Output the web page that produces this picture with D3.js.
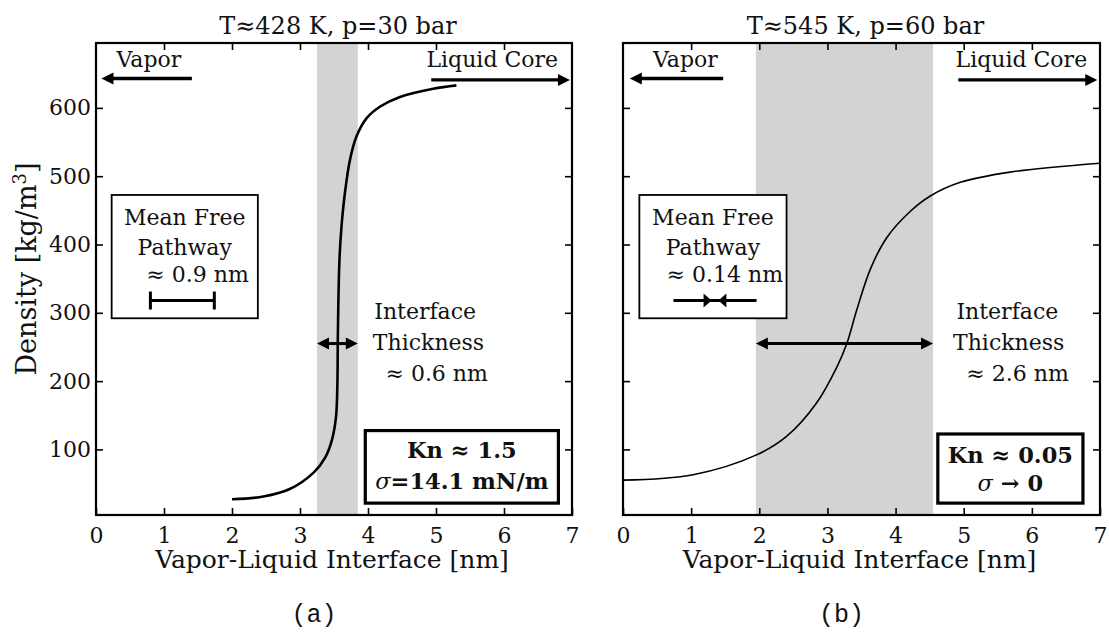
<!DOCTYPE html>
<html>
<head>
<meta charset="utf-8">
<script src="https://cdn.jsdelivr.net/npm/d3@7"></script>
<style>
  body { margin: 0; background: #fff; }
  text { font-family: "DejaVu Serif", serif; fill: #111; }
</style>
</head>
<body>
<svg id="chart" width="1109" height="632"></svg>
<script>
// density profiles  (x in nm, density in kg/m^3)
var xA = [2.0, 2.46, 2.85, 3.2, 3.37, 3.47, 3.53, 3.55, 3.555, 3.56, 3.58, 3.61, 3.66, 3.735, 3.83, 3.98, 4.18, 4.47, 4.96, 5.3];
var yA = [27, 31, 42, 66, 88, 114, 148, 197, 250, 290, 377, 426, 475, 524, 558, 585, 602, 616, 628, 633];

var xB = [0, 1.03, 1.96, 2.4, 2.84, 3.14, 3.285, 3.43, 3.63, 3.87, 4.21, 4.51, 4.95, 5.68, 7.0];
var yB = [55, 63, 92, 119, 168, 221, 255, 304, 364, 410, 448, 471, 491, 506, 519];

// shaded interface regions
var bandA = [3.25, 3.85];
var bandB = [1.95, 4.55];

var xTicks = [0, 1, 2, 3, 4, 5, 6, 7];
var yTicks = [100, 200, 300, 400, 500, 600];

var titles = ['T\u2248428 K, p=30 bar', 'T\u2248545 K, p=60 bar'];
var panelTags = ['(a)', '(b)'];
var mfpText = ['\u2248 0.9 nm', '\u2248 0.14 nm'];
var thickText = ['\u2248 0.6 nm', '\u2248 2.6 nm'];
var knText = ['Kn \u2248 1.5', 'Kn \u2248 0.05'];
var sigmaText = ['=14.1 mN/m', ' \u2192 0'];

var svg = d3.select('#chart');
var yDomain = [4, 695];

function arrowHead(g, x, y, dir, len, hw) {
    // dir = +1 points right, -1 points left
    g.append('path')
        .attr('d', 'M' + x + ',' + y + 'L' + (x - dir * len) + ',' + (y - hw) +
                   'L' + (x - dir * len) + ',' + (y + hw) + 'Z')
        .attr('fill', '#000');
}

function hArrow(g, x0, x1, y, heads, w) {
    // heads: 'left', 'right', 'both'
    var a = x0, b = x1;
    if (heads == 'left' || heads == 'both') a = x0 + 8;
    if (heads == 'right' || heads == 'both') b = x1 - 8;
    g.append('line').attr('x1', a).attr('x2', b).attr('y1', y).attr('y2', y)
        .attr('stroke', '#000').attr('stroke-width', w);
    if (heads == 'left' || heads == 'both') arrowHead(g, x0, y, -1, 12, 6);
    if (heads == 'right' || heads == 'both') arrowHead(g, x1, y, 1, 12, 6);
}

function drawPanel(i, left, right, xs, ys, band, opt) {
    var x = d3.scaleLinear().domain([0, 7]).range([left, right]);
    var y = d3.scaleLinear().domain(yDomain).range([515, 43]);
    var g = svg.append('g');

    // shaded interface band
    g.append('rect')
        .attr('x', x(band[0])).attr('y', y(yDomain[1]))
        .attr('width', x(band[1]) - x(band[0]))
        .attr('height', y(yDomain[0]) - y(yDomain[1]))
        .attr('fill', '#d3d3d3');

    // density curve
    var pts = xs.map(function (d, k) { return [d, ys[k]]; });
    var line = d3.line()
        .x(function (d) { return x(d[0]); })
        .y(function (d) { return y(d[1]); })
        .curve(d3.curveCatmullRom.alpha(0.5));
    g.append('path').datum(pts)
        .attr('d', line)
        .attr('fill', 'none')
        .attr('stroke', '#000')
        .attr('stroke-width', opt.curveW);

    // axes, ticks inward on all four sides
    var bottom = d3.axisBottom(x).tickValues(xTicks).tickSize(-7).tickPadding(12).tickFormat(d3.format('d'));
    var top = d3.axisTop(x).tickValues(xTicks.slice(1, 7)).tickSize(-7).tickFormat('');
    var leftAx = d3.axisLeft(y).tickValues(yTicks).tickSize(-7).tickPadding(5)
        .tickFormat(opt.yLabels ? d3.format('d') : '');
    var rightAx = d3.axisRight(y).tickValues(yTicks).tickSize(-7).tickFormat('');

    var gb = g.append('g').attr('transform', 'translate(0,515)').call(bottom);
    var gt = g.append('g').attr('transform', 'translate(0,43)').call(top);
    var gl = g.append('g').attr('transform', 'translate(' + left + ',0)').call(leftAx);
    var gr = g.append('g').attr('transform', 'translate(' + right + ',0)').call(rightAx);
    [gb, gt, gl, gr].forEach(function (a) {
        a.select('.domain').remove();
        a.selectAll('line').attr('stroke', '#000').attr('stroke-width', 1.6);
        a.selectAll('text').attr('font-size', 22).attr('fill', '#111');
    });

    // frame
    g.append('rect')
        .attr('x', left).attr('y', 43)
        .attr('width', right - left).attr('height', 515 - 43)
        .attr('fill', 'none').attr('stroke', '#000').attr('stroke-width', 2.2);

    // title & axis labels
    g.append('text').attr('x', (left + right) / 2 + 4).attr('y', 34)
        .attr('text-anchor', 'middle').attr('font-size', 24).text(titles[i]);
    g.append('text').attr('x', (left + right) / 2 - 2).attr('y', 568)
        .attr('text-anchor', 'middle').attr('font-size', 25).text('Vapor-Liquid Interface [nm]');
    g.append('text')
        .style('font-family', '"Liberation Mono", monospace')
        .attr('x', (left + right) / 2 - 20).attr('y', 622)
        .attr('text-anchor', 'middle').attr('font-size', 25).text(panelTags[i]);

    // Vapor / Liquid Core arrows
    g.append('text').attr('x', x(opt.vaporX)).attr('y', y(660)).attr('font-size', 22).text('Vapor');
    hArrow(g, x(opt.vaporArrow[0]), x(opt.vaporArrow[1]), y(643), 'left', 3.4);
    g.append('text').attr('x', x(opt.liquidX)).attr('y', y(660)).attr('font-size', 22).text('Liquid Core');
    hArrow(g, x(opt.liquidArrow[0]), x(opt.liquidArrow[1]), y(641), 'right', 3.4);

    // mean free pathway box
    var mb = opt.mfpBox;
    g.append('rect')
        .attr('x', x(mb[0])).attr('y', y(472.5))
        .attr('width', x(mb[1]) - x(mb[0])).attr('height', y(292) - y(472.5))
        .attr('fill', '#fff').attr('stroke', '#000').attr('stroke-width', 1.8);
    var cx = x((mb[0] + mb[1]) / 2);
    g.append('text').attr('x', cx).attr('y', y(428.5)).attr('text-anchor', 'middle').attr('font-size', 22).text('Mean Free');
    g.append('text').attr('x', cx).attr('y', y(384.6)).attr('text-anchor', 'middle').attr('font-size', 22).text('Pathway');
    g.append('text').attr('x', x(opt.mfpTextX)).attr('y', y(345.6)).attr('font-size', 22).text(mfpText[i]);
    opt.mfpMark(g, x, y(318));

    // interface thickness arrow + text
    hArrow(g, x(band[0]), x(band[1]), y(255), 'both', 3);
    var tl = opt.thickX;
    g.append('text').attr('x', x(tl[0])).attr('y', y(291)).attr('text-anchor', 'middle').attr('font-size', 22).text('Interface');
    g.append('text').attr('x', x(tl[1])).attr('y', y(245.7)).attr('text-anchor', 'middle').attr('font-size', 22).text('Thickness');
    g.append('text').attr('x', x(tl[2])).attr('y', y(200.5)).attr('text-anchor', 'middle').attr('font-size', 22).text(thickText[i]);

    // Knudsen number box
    var kb = opt.knBox;
    g.append('rect')
        .attr('x', x(kb[0])).attr('y', y(kb[2]))
        .attr('width', x(kb[1]) - x(kb[0])).attr('height', y(21.4) - y(kb[2]))
        .attr('fill', '#fff').attr('stroke', '#000').attr('stroke-width', 3.2);
    var kx = x((kb[0] + kb[1]) / 2);
    g.append('text').attr('x', kx).attr('y', y(opt.knY[0])).attr('text-anchor', 'middle')
        .attr('font-size', 22.5).attr('font-weight', 'bold').text(knText[i]);
    var st = g.append('text').attr('x', kx).attr('y', y(opt.knY[1])).attr('text-anchor', 'middle').attr('font-size', 22.5);
    st.append('tspan').attr('font-style', 'italic').text('\u03c3');
    st.append('tspan').attr('font-weight', 'bold').text(sigmaText[i]);
}

// panel (a)
drawPanel(0, 96, 572, xA, yA, bandA, {
    curveW: 2.6, yLabels: true,
    vaporX: 0.3, vaporArrow: [0.08, 1.41],
    liquidX: 4.86, liquidArrow: [4.93, 6.97],
    mfpBox: [0.23, 2.38], mfpTextX: 0.74,
    mfpMark: function (g, x, yy) {
        var a = x(0.8), b = x(1.74);
        g.append('line').attr('x1', a).attr('x2', b).attr('y1', yy).attr('y2', yy).attr('stroke', '#000').attr('stroke-width', 3);
        [a, b].forEach(function (p) {
            g.append('line').attr('x1', p).attr('x2', p).attr('y1', yy - 9).attr('y2', yy + 9).attr('stroke', '#000').attr('stroke-width', 3);
        });
    },
    thickX: [4.84, 4.89, 5.01],
    knBox: [3.96, 6.80, 127.6], knY: [87.6, 42.3]
});

// panel (b)
drawPanel(1, 623, 1100, xB, yB, bandB, {
    curveW: 1.6, yLabels: false,
    vaporX: 0.44, vaporArrow: [0.1, 1.47],
    liquidX: 4.88, liquidArrow: [4.92, 6.96],
    mfpBox: [0.24, 2.40], mfpTextX: 0.64,
    mfpMark: function (g, x, yy) {
        g.append('line').attr('x1', x(0.74)).attr('x2', x(1.96)).attr('y1', yy).attr('y2', yy).attr('stroke', '#000').attr('stroke-width', 3);
        arrowHead(g, x(1.30), yy, 1, 8, 7);
        arrowHead(g, x(1.40), yy, -1, 8, 7);
    },
    thickX: [5.64, 5.66, 5.79],
    knBox: [4.62, 6.75, 122.6], knY: [80.8, 39.8]
});

// shared y-axis label
svg.append('text')
    .attr('transform', 'translate(36,269) rotate(-90)')
    .attr('text-anchor', 'middle')
    .attr('font-size', 27)
    .call(function (t) {
        t.append('tspan').text('Density [kg/m');
        t.append('tspan').attr('baseline-shift', 'super').attr('font-size', 18).text('3');
        t.append('tspan').text(']');
    });
</script>
</body>
</html>
